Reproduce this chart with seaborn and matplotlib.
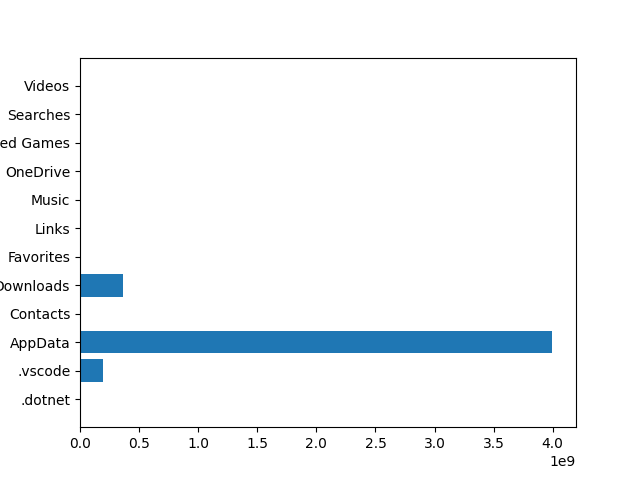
import matplotlib
matplotlib.use("Agg")
import matplotlib.pyplot as plt
import seaborn as sns

# folder sizes in bytes
folders = [".dotnet", ".vscode", "AppData", "Contacts", "Downloads", "Favorites",
           "Links", "Music", "OneDrive", "Saved Games", "Searches", "Videos"]
sizes = [0, 0.192e9, 3.997e9, 0, 0.364e9, 0, 0, 0, 0, 0, 0, 0]

fig, ax = plt.subplots(figsize=(6.4, 4.8), dpi=100)
# seaborn puts the first category on top, so pass the order reversed
sns.barplot(x=sizes, y=folders, order=folders[::-1], orient="h",
            color="#1f77b4", saturation=1, width=0.8, ax=ax)

# match matplotlib's default barh margins
n = len(folders)
ax.set_ylim(n - 1 + 0.99, -0.99)
ax.set_xlim(0, max(sizes) * 1.05)
ax.set_xlabel("")
ax.set_ylabel("")

plt.savefig("out.png")
